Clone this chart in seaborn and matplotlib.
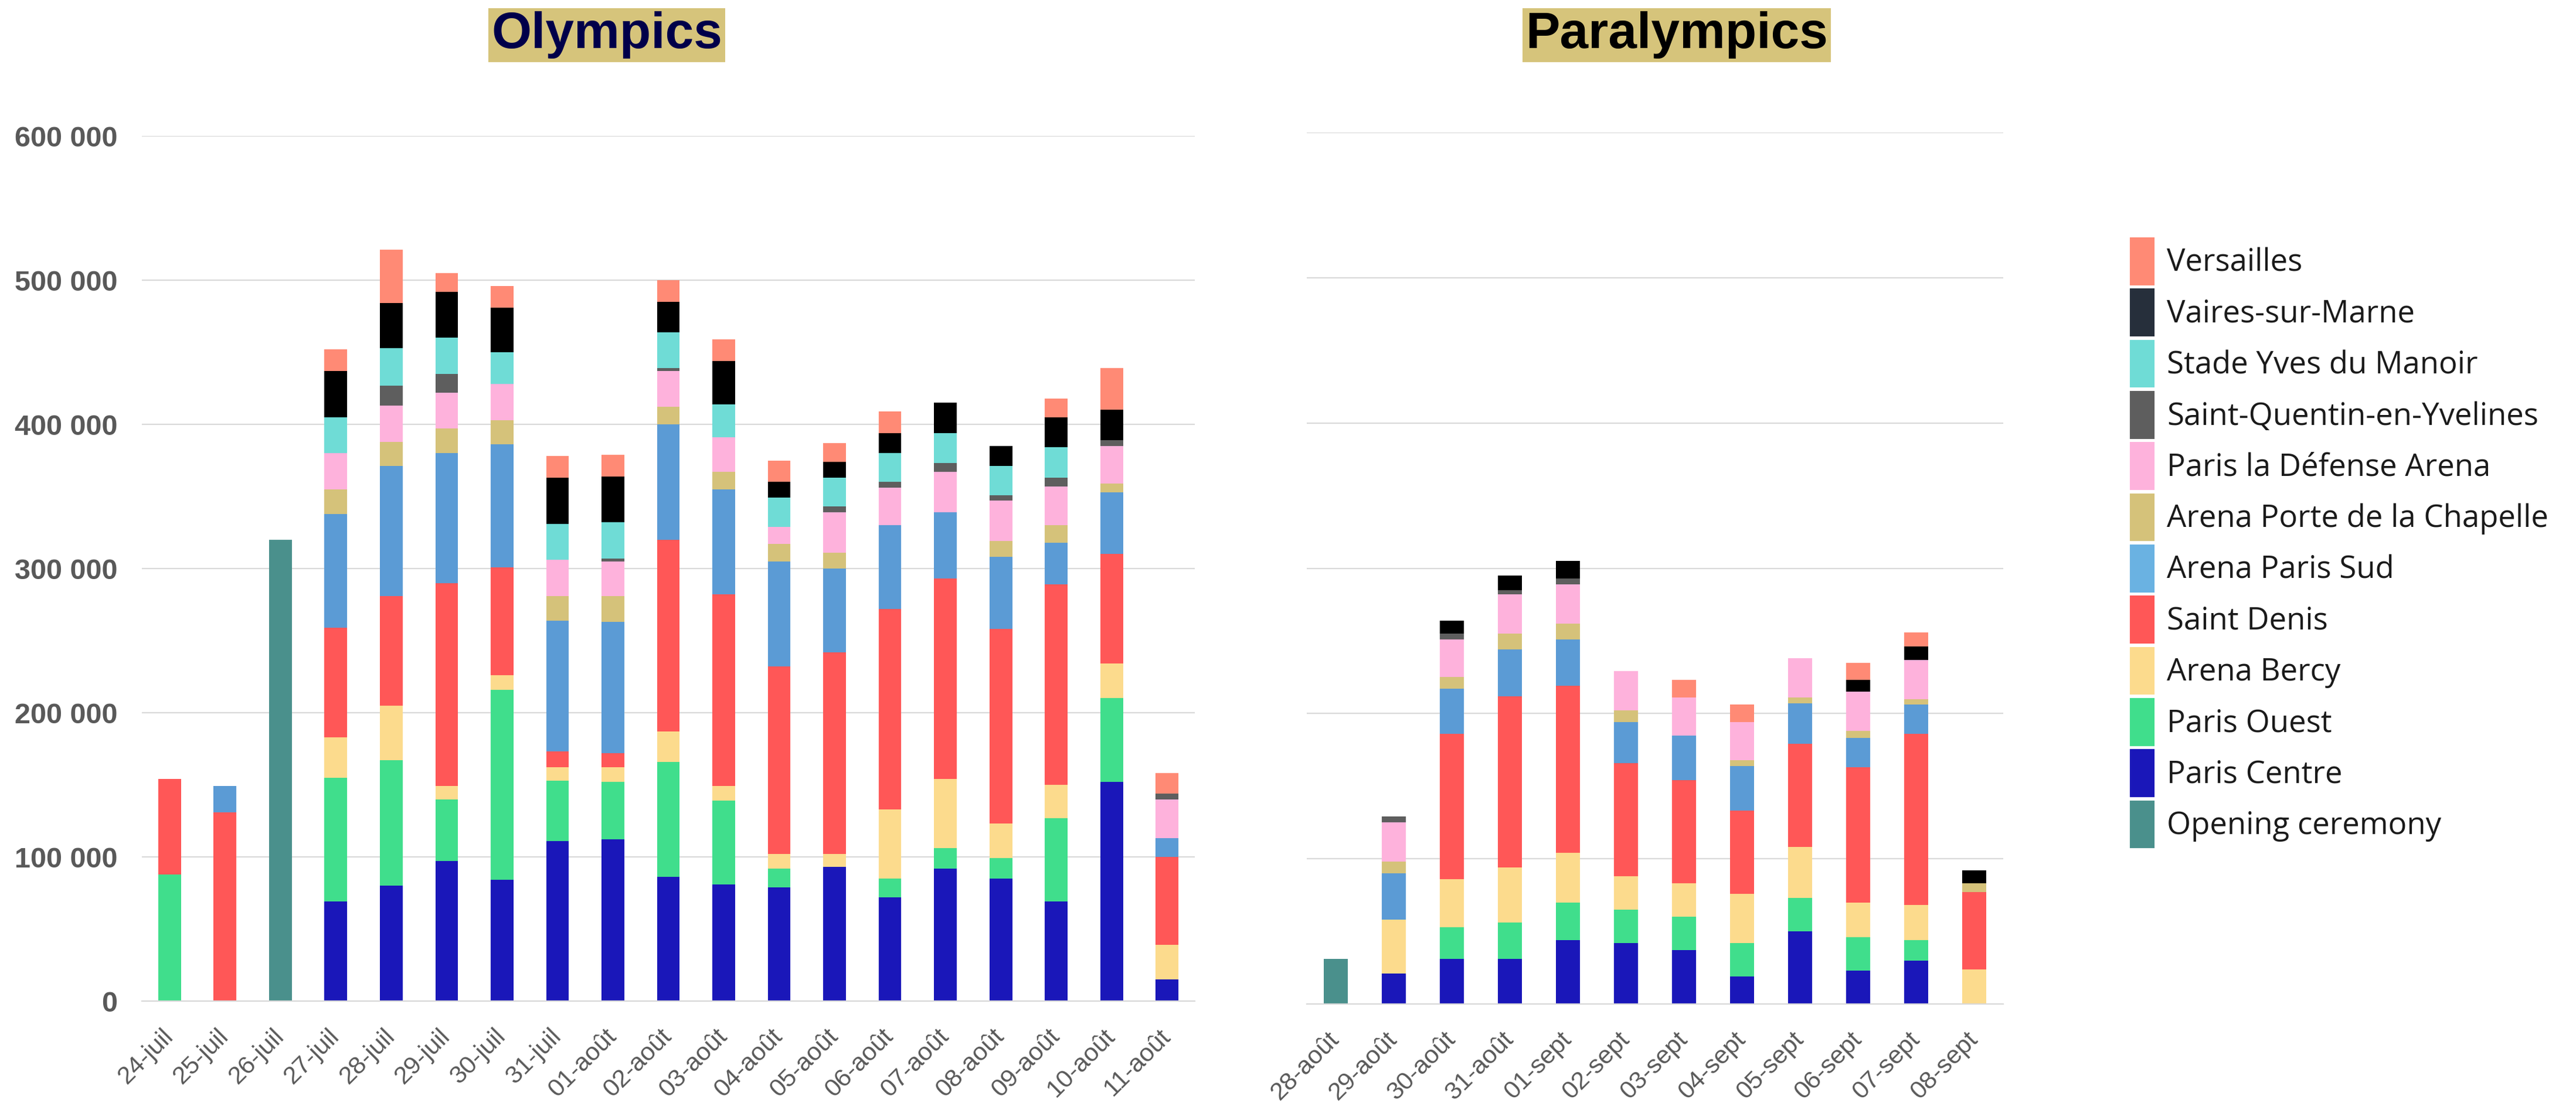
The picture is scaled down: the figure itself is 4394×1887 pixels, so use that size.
import matplotlib
matplotlib.use("Agg")
import matplotlib.pyplot as plt
from matplotlib.patches import Patch
from matplotlib.ticker import FuncFormatter, MultipleLocator
import seaborn as sns
import pandas as pd

# venues, stacked from the bottom to the top
venues = ['Opening ceremony', 'Paris Centre', 'Paris Ouest', 'Arena Bercy', 'Saint Denis',
          'Arena Paris Sud', 'Arena Porte de la Chapelle', 'Paris la Défense Arena',
          'Saint-Quentin-en-Yvelines', 'Stade Yves du Manoir', 'Vaires-sur-Marne', 'Versailles']

bar_colors = {'Opening ceremony': '#4A908C', 'Paris Centre': '#1A17B9', 'Paris Ouest': '#40DE8C',
              'Arena Bercy': '#FCDB8D', 'Saint Denis': '#FF5757', 'Arena Paris Sud': '#5B9BD5',
              'Arena Porte de la Chapelle': '#D5C27A', 'Paris la Défense Arena': '#FEB2DC',
              'Saint-Quentin-en-Yvelines': '#5E5E5E', 'Stade Yves du Manoir': '#6FDCD6',
              'Vaires-sur-Marne': '#000000', 'Versailles': '#FF8A75'}
legend_colors = dict(bar_colors, **{'Vaires-sur-Marne': '#262F3B', 'Arena Paris Sud': '#6AB2E2'})

# Olympics (thousands of visitors)
oly_dates = ['24-juil', '25-juil', '26-juil', '27-juil', '28-juil', '29-juil', '30-juil', '31-juil',
             '01-août', '02-août', '03-août', '04-août', '05-août', '06-août', '07-août', '08-août',
             '09-août', '10-août', '11-août']
oly_opening = [0, 0, 320, 0, 0, 0, 0, 0, 0, 0, 0, 0, 0, 0, 0, 0, 0, 0, 0]
oly_centre = [0, 0, 0, 69, 80, 97, 84, 111, 112, 86, 81, 79, 93, 72, 92, 85, 69, 152, 15]
oly_ouest = [88, 0, 0, 86, 87, 43, 132, 42, 40, 80, 58, 13, 0, 13, 14, 14, 58, 58, 0]
oly_bercy = [0, 0, 0, 28, 38, 9, 10, 9, 10, 21, 10, 10, 9, 48, 48, 24, 23, 24, 24]
oly_stdenis = [66, 131, 0, 76, 76, 141, 75, 11, 10, 133, 133, 130, 140, 139, 139, 135, 139, 76, 61]
oly_sud = [0, 18, 0, 79, 90, 90, 85, 91, 91, 80, 73, 73, 58, 58, 46, 50, 29, 43, 13]
oly_chapelle = [0, 0, 0, 17, 17, 17, 17, 17, 18, 12, 12, 12, 11, 0, 0, 11, 12, 6, 0]
oly_defense = [0, 0, 0, 25, 25, 25, 25, 25, 24, 25, 24, 12, 28, 26, 28, 28, 27, 26, 27]
oly_sqy = [0, 0, 0, 0, 14, 13, 0, 0, 2, 2, 0, 0, 4, 4, 6, 4, 6, 4, 4]
oly_manoir = [0, 0, 0, 25, 26, 25, 22, 25, 25, 25, 23, 20, 20, 20, 21, 20, 21, 0, 0]
oly_vaires = [0, 0, 0, 32, 31, 32, 31, 32, 32, 21, 30, 11, 11, 14, 21, 14, 21, 21, 0]
oly_versailles = [0, 0, 0, 15, 37, 13, 15, 15, 15, 15, 15, 15, 13, 15, 0, 0, 13, 29, 14]

# Paralympics (thousands of visitors)
para_dates = ['28-août', '29-août', '30-août', '31-août', '01-sept', '02-sept', '03-sept',
              '04-sept', '05-sept', '06-sept', '07-sept', '08-sept']
para_opening = [31, 0, 0, 0, 0, 0, 0, 0, 0, 0, 0, 0]
para_centre = [0, 21, 31, 31, 44, 42, 37, 19, 50, 23, 30, 0]
para_ouest = [0, 0, 22, 25, 26, 23, 23, 23, 23, 23, 14, 0]
para_bercy = [0, 37, 33, 38, 34, 23, 23, 34, 35, 24, 24, 24]
para_stdenis = [0, 0, 100, 118, 115, 78, 71, 57, 71, 93, 118, 53]
para_sud = [0, 32, 31, 32, 32, 28, 31, 31, 28, 20, 20, 0]
para_chapelle = [0, 8, 8, 11, 11, 8, 0, 4, 4, 5, 4, 6]
para_defense = [0, 27, 26, 27, 27, 27, 26, 26, 27, 27, 27, 0]
para_sqy = [0, 4, 4, 3, 4, 0, 0, 0, 0, 0, 0, 0]
para_manoir = [0, 0, 0, 0, 0, 0, 0, 0, 0, 0, 0, 0]
para_vaires = [0, 0, 9, 10, 12, 0, 0, 0, 0, 8, 9, 9]
para_versailles = [0, 0, 0, 0, 0, 0, 12, 12, 0, 12, 10, 0]

oly_layers = [oly_opening, oly_centre, oly_ouest, oly_bercy, oly_stdenis, oly_sud, oly_chapelle,
              oly_defense, oly_sqy, oly_manoir, oly_vaires, oly_versailles]
para_layers = [para_opening, para_centre, para_ouest, para_bercy, para_stdenis, para_sud,
               para_chapelle, para_defense, para_sqy, para_manoir, para_vaires, para_versailles]

sns.set_style("white")
plt.rcParams['font.family'] = ['Liberation Sans', 'DejaVu Sans']

W, H = 4394, 1887
fig = plt.figure(figsize=(W / 100, H / 100), dpi=100)
ax1 = fig.add_axes([242 / W, 1 - 1708 / H, (2038 - 242) / W, (1708 - 232) / H])
ax2 = fig.add_axes([2229 / W, 1 - 1713 / H, (3417 - 2229) / W, (1713 - 226) / H])


def stacked(ax, dates, layers):
    # cumulative totals drawn from the top layer down, each one over the previous
    rows = []
    running = [0] * len(dates)
    for venue, vals in zip(venues, layers):
        running = [r + v for r, v in zip(running, vals)]
        for d, c in zip(dates, running):
            rows.append({'date': d, 'venue': venue, 'total': c * 1000})
    df = pd.DataFrame(rows)
    sns.barplot(data=df, x='date', y='total', hue='venue', order=dates,
                hue_order=venues[::-1], palette=bar_colors, dodge=False, width=0.41,
                errorbar=None, legend=False, saturation=1, linewidth=0, ax=ax)


stacked(ax1, oly_dates, oly_layers)
stacked(ax2, para_dates, para_layers)

for ax, n in ((ax1, len(oly_dates)), (ax2, len(para_dates))):
    ax.set_ylim(0, 600000)
    ax.set_xlim(-0.5, n - 0.5)
    ax.yaxis.set_major_locator(MultipleLocator(100000))
    ax.grid(axis='y', color='#D9D9D9', lw=1.6)
    ax.set_axisbelow(True)
    for s in ['top', 'right', 'left']:
        ax.spines[s].set_visible(False)
    ax.spines['bottom'].set_color('#D9D9D9')
    ax.spines['bottom'].set_linewidth(1.6)
    ax.set_xlabel('')
    ax.set_ylabel('')
    ax.tick_params(axis='both', length=0)
    ax.tick_params(axis='x', pad=39)
    plt.setp(ax.get_xticklabels(), rotation=45, ha='right', va='center', rotation_mode='anchor',
             fontsize=31, color='#595959')

ax1.yaxis.set_major_formatter(FuncFormatter(lambda v, p: f"{int(v):,}".replace(",", " ")))
ax1.tick_params(axis='y', pad=30, labelsize=35, labelcolor='#595959')
plt.setp(ax1.get_yticklabels(), fontweight='bold')
ax2.tick_params(axis='y', labelleft=False)

title_box = dict(boxstyle='square,pad=0.06', fc='#D6C47B', ec='none')
fig.text(1035 / W, 1 - 60 / H, 'Olympics', ha='center', va='center', fontsize=63,
         fontweight='bold', color='#00004A', bbox=title_box)
fig.text(2860 / W, 1 - 60 / H, 'Paralympics', ha='center', va='center', fontsize=63,
         fontweight='bold', color='black', bbox=title_box)

handles = [Patch(facecolor=legend_colors[v], edgecolor='none') for v in venues[::-1]]
leg = fig.legend(handles, venues[::-1], loc='upper left', bbox_to_anchor=(3633 / W, 1 - 405 / H),
                 frameon=False, borderaxespad=0, borderpad=0, handlelength=0.8,
                 handleheight=2.0, handletextpad=0.4, labelspacing=0.11,
                 prop={'family': ['Open Sans', 'DejaVu Sans'], 'size': 38})
for t in leg.get_texts():
    t.set_color('#1A1A1A')

fig.savefig('out.png', dpi=100, facecolor='white')
